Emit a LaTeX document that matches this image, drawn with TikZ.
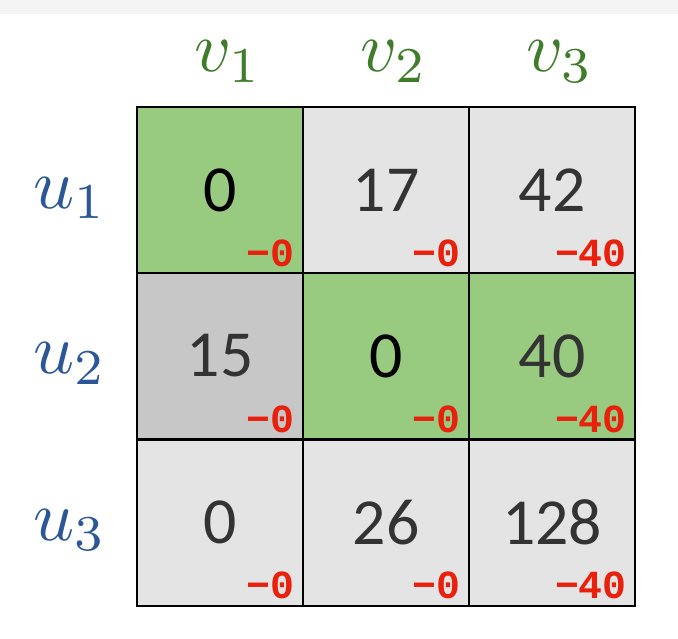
\documentclass[tikz,border=0pt]{standalone}
\usepackage{fontspec}
\newfontfamily\numfont{Carlito}
\newfontfamily\redfont{Liberation Mono}[BoldFont={* Bold}]
\definecolor{cgreen}{HTML}{98CB80}
\definecolor{clight}{HTML}{E4E4E4}
\definecolor{cdark}{HTML}{C8C7C8}
\definecolor{ctext}{HTML}{333333}
\definecolor{cred}{HTML}{E8200C}
\definecolor{vgreen}{HTML}{3F7D2A}
\definecolor{ublue}{HTML}{2B5797}
\definecolor{band}{HTML}{F4F4F4}
\begin{document}
\begin{tikzpicture}[x=1bp,y=-1bp,
  cell/.style={draw=black, line width=2bp, minimum width=166bp, minimum height=166bp,
    inner sep=0pt, font=\numfont\fontsize{66}{70}\selectfont, text=ctext},
  sub/.style={anchor=base east, xshift=-9bp, yshift=8bp, inner sep=0pt,
    font=\redfont\bfseries\fontsize{40}{42}\selectfont, text=cred},
  vlab/.style={anchor=base, inner sep=0pt, text=vgreen, scale=7.2},
  ulab/.style={anchor=base, inner sep=0pt, text=ublue, scale=7.2}]
\useasboundingbox (0,0) rectangle (678,639);
\fill[band] (0,0) rectangle (678,14);
% cells
\node[cell, fill=cgreen, text=black] (c11) at (220,190.5) {0};
\node[cell, fill=clight] (c12) at (386,190.5) {17};
\node[cell, fill=clight] (c13) at (552,190.5) {42};
\node[cell, fill=cdark] (c21) at (220,356) {15};
\node[cell, fill=cgreen, text=black] (c22) at (386,356) {0};
\node[cell, fill=cgreen] (c23) at (552,356) {40};
\node[cell, fill=clight] (c31) at (220,522.5) {0};
\node[cell, fill=clight] (c32) at (386,522.5) {26};
\node[cell, fill=clight] (c33) at (552,522.5) {128};
% red reductions
\node[sub] (r11) at (c11.south east) {−0};
\node[sub] (r12) at (c12.south east) {−0};
\node[sub] (r13) at (c13.south east) {−40};
\node[sub] (r21) at (c21.south east) {−0};
\node[sub] (r22) at (c22.south east) {−0};
\node[sub] (r23) at (c23.south east) {−40};
\node[sub] (r31) at (c31.south east) {−0};
\node[sub] (r32) at (c32.south east) {−0};
\node[sub] (r33) at (c33.south east) {−40};
% column labels
\node[vlab] (v1) at (228,72) {$v_1$};
\node[vlab] (v2) at (394,72) {$v_2$};
\node[vlab] (v3) at (560,72) {$v_3$};
% row labels
\node[ulab] (u1) at (70,208) {$u_1$};
\node[ulab] (u2) at (70,373.5) {$u_2$};
\node[ulab] (u3) at (70,540) {$u_3$};
\end{tikzpicture}
\end{document}
